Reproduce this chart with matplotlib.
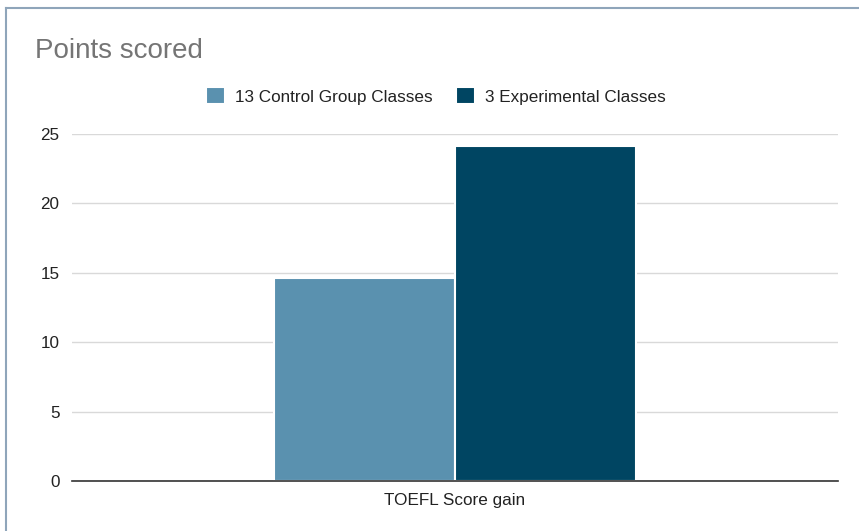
import numpy as np
import matplotlib.pyplot as plt
from matplotlib.lines import Line2D

categories = ["TOEFL Score gain"]
series_names = ["13 Control Group Classes", "3 Experimental Classes"]
control_values = [14.6]
experimental_values = [24.1]
y_ticks = [0, 5, 10, 15, 20, 25]

colors = ["#5a91af", "#004562"]

plt.rcParams['font.family'] = ['Liberation Sans', 'DejaVu Sans']

W, H = 859, 531
fig = plt.figure(figsize=(W / 100, H / 100), dpi=100)
ax = fig.add_axes([72 / W, 1 - 481 / H, (838 - 72) / W, (481 - 133.5) / H])

x = np.arange(len(categories))
bw = 0.473
ax.bar(x - bw / 2, control_values, bw, color=colors[0], edgecolor='white', linewidth=1.5,
       label=series_names[0], zorder=3)
ax.bar(x + bw / 2, experimental_values, bw, color=colors[1], edgecolor='white', linewidth=1.5,
       label=series_names[1], zorder=3)

ax.set_xlim(-1, 1)
ax.set_ylim(0, 25)
ax.set_yticks(y_ticks)
ax.set_xticks(x)
ax.set_xticklabels(categories)
ax.tick_params(axis='both', length=0, labelsize=12.3, colors='#222222')
ax.tick_params(axis='y', pad=9)
ax.tick_params(axis='x', pad=9)
ax.grid(axis='y', color='#d9d9d9', linewidth=1, zorder=0)
for s in ['top', 'right', 'left']:
    ax.spines[s].set_visible(False)
ax.spines['bottom'].set_color('#333333')
ax.spines['bottom'].set_linewidth(1.2)
ax.spines['bottom'].set_zorder(4)

fig.text(35 / W, 1 - 51 / H, "Points scored", fontsize=20, color='#757575', va='center', ha='left')

fig.legend(loc='center', bbox_to_anchor=(436 / W, 1 - 96 / H), ncol=2, frameon=False,
           fontsize=12.3, handlelength=1.1, handleheight=1.1, handletextpad=0.6,
           columnspacing=1.4, labelcolor='#222222', borderpad=0, borderaxespad=0)

# frame lines at top and left edge
fig.add_artist(Line2D([6 / W, 1], [1 - 7.5 / H, 1 - 7.5 / H], transform=fig.transFigure,
                      color='#8fa5ba', linewidth=1.5))
fig.add_artist(Line2D([6 / W, 6 / W], [0, 1 - 7.5 / H], transform=fig.transFigure,
                      color='#8fa5ba', linewidth=1.5))

fig.savefig("out.png", dpi=100)
